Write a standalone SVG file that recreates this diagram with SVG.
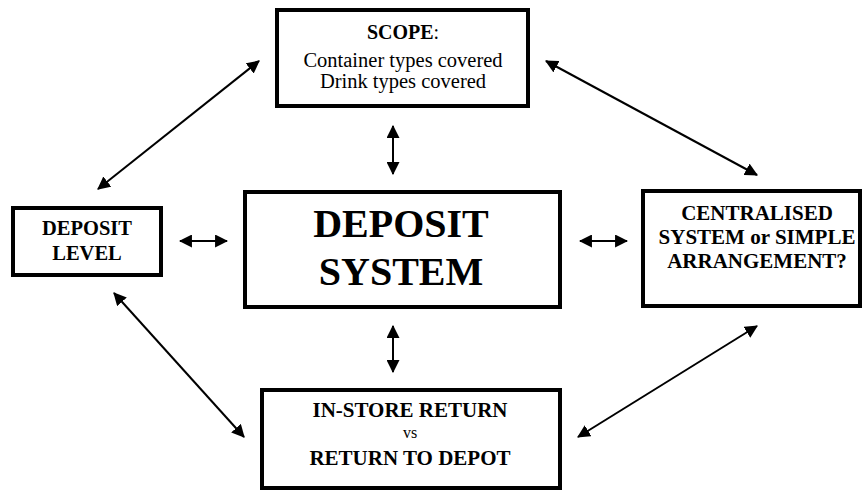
<svg xmlns="http://www.w3.org/2000/svg" width="865" height="491" viewBox="0 0 865 491">
<style>
.box{fill:#fff;stroke:#000;stroke-width:4}
.t{font-family:"Liberation Serif","Times New Roman",serif;fill:#000;text-anchor:middle}
.b{font-weight:bold}
.c{stroke:#000;stroke-width:2;fill:none;marker-start:url(#ah);marker-end:url(#ah)}
</style>
<defs>
<marker id="ah" viewBox="0 0 12 12" refX="11" refY="6" markerWidth="13" markerHeight="13" markerUnits="userSpaceOnUse" orient="auto-start-reverse">
<path d="M0,0 L12,6 L0,12 z" fill="#000"/>
</marker>
</defs>
<rect width="865" height="491" fill="#fff"/>
<g id="connectors">
<line class="c" x1="259" y1="61" x2="98" y2="189"/>
<line class="c" x1="546" y1="61" x2="757" y2="175"/>
<line class="c" x1="114" y1="293" x2="244" y2="437"/>
<line class="c" x1="757" y1="326" x2="578" y2="437"/>
<line class="c" x1="393" y1="126" x2="393" y2="174"/>
<line class="c" x1="393" y1="326" x2="393" y2="372"/>
<line class="c" x1="180" y1="241" x2="227" y2="241"/>
<line class="c" x1="580" y1="241" x2="627" y2="241"/>
</g>
<g id="scope">
<rect class="box" x="277" y="10" width="251" height="96"/>
<text class="t" x="403" y="39" font-size="20"><tspan class="b">SCOPE</tspan>:</text>
<text class="t" x="403" y="67" font-size="20.5">Container types covered</text>
<text class="t" x="403" y="88" font-size="20.5">Drink types covered</text>
</g>
<g id="deposit-level">
<rect class="box" x="13" y="208" width="148" height="67"/>
<text class="t b" x="87" y="235" font-size="20.5">DEPOSIT</text>
<text class="t b" x="87" y="260" font-size="20.5">LEVEL</text>
</g>
<g id="deposit-system">
<rect class="box" x="245" y="192" width="315" height="115"/>
<text class="t b" x="401" y="237" font-size="40">DEPOSIT</text>
<text class="t b" x="401" y="285" font-size="40">SYSTEM</text>
</g>
<g id="centralised">
<rect class="box" x="643" y="191" width="217" height="115"/>
<text class="t b" x="757" y="220" font-size="21">CENTRALISED</text>
<text class="t b" x="757" y="244" font-size="21">SYSTEM or SIMPLE</text>
<text class="t b" x="757" y="268" font-size="21">ARRANGEMENT?</text>
</g>
<g id="return">
<rect class="box" x="262" y="390" width="298" height="98"/>
<text class="t b" x="410" y="417" font-size="21">IN-STORE RETURN</text>
<text class="t" x="410" y="438" font-size="16">vs</text>
<text class="t b" x="410" y="465" font-size="21">RETURN TO DEPOT</text>
</g>
</svg>
